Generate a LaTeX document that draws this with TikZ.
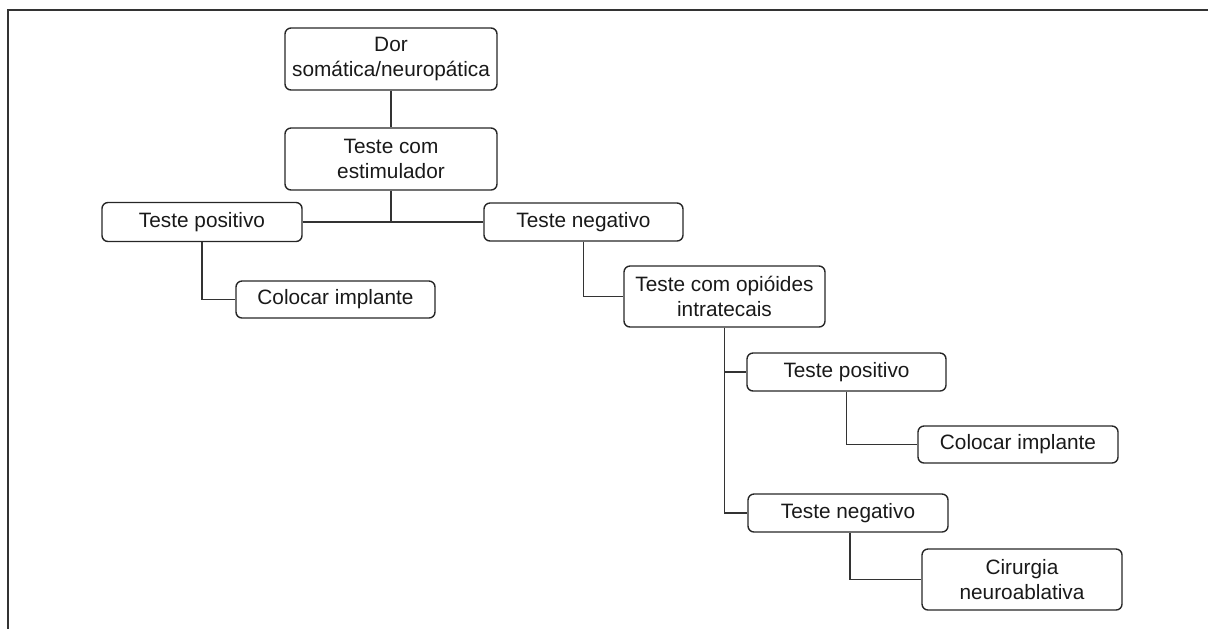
\documentclass[tikz,border=0pt]{standalone}
\usepackage{fontspec}
\setmainfont{Liberation Sans}
\begin{document}
\begin{tikzpicture}[x=0.5pt,y=-0.5pt,
  box/.style={draw=black!85, line width=0.7pt, rounded corners=3pt, align=center,
    inner sep=0pt, font=\fontsize{10.4}{12.5}\selectfont, text=black!90},
  link/.style={draw=black!80, line width=0.7pt},
  frame/.style={draw=black!80, line width=1pt}]
\useasboundingbox (0,0) rectangle (1208,629);
\draw[frame] (1208,10) -- (8,10) -- (8,629);

\node[box, minimum width=106pt, minimum height=31pt] (dor) at (391,59) {Dor\\somática/neuropática};
\node[box, minimum width=106pt, minimum height=31pt] (est) at (391,159) {Teste com\\estimulador};
\node[box, minimum width=100pt, minimum height=19.5pt] (tp1) at (202,222) {Teste positivo};
\node[box, minimum width=99.5pt, minimum height=19pt] (tn1) at (583.5,222) {Teste negativo};
\node[box, minimum width=99.5pt, minimum height=18.5pt] (ci1) at (335.5,299.5) {Colocar implante};
\node[box, minimum width=100.5pt, minimum height=30.5pt] (op) at (724.5,296.5) {Teste com opióides\\intratecais};
\node[box, minimum width=99.5pt, minimum height=19pt] (tp2) at (846.5,372) {Teste positivo};
\node[box, minimum width=100pt, minimum height=18.5pt] (ci2) at (1018,444.5) {Colocar implante};
\node[box, minimum width=100pt, minimum height=19pt] (tn2) at (848,513) {Teste negativo};
\node[box, minimum width=100pt, minimum height=30.5pt] (cir) at (1022,579.5) {Cirurgia\\neuroablativa};

\draw[link] (dor) -- (est);
\draw[link] (tp1.east) -- (tn1.west);
\draw[link] (est.south) -- (est.south |- tp1.east);
\draw[link] (tp1.south) |- (ci1.west);
\draw[link] (tn1.south) |- (op.west);
\draw[link] (op.south) |- (tp2.west);
\draw[link] (op.south) |- (tn2.west);
\draw[link] (tp2.south) |- (ci2.west);
\draw[link] ([xshift=1pt]tn2.south) |- (cir.west);
\end{tikzpicture}
\end{document}
